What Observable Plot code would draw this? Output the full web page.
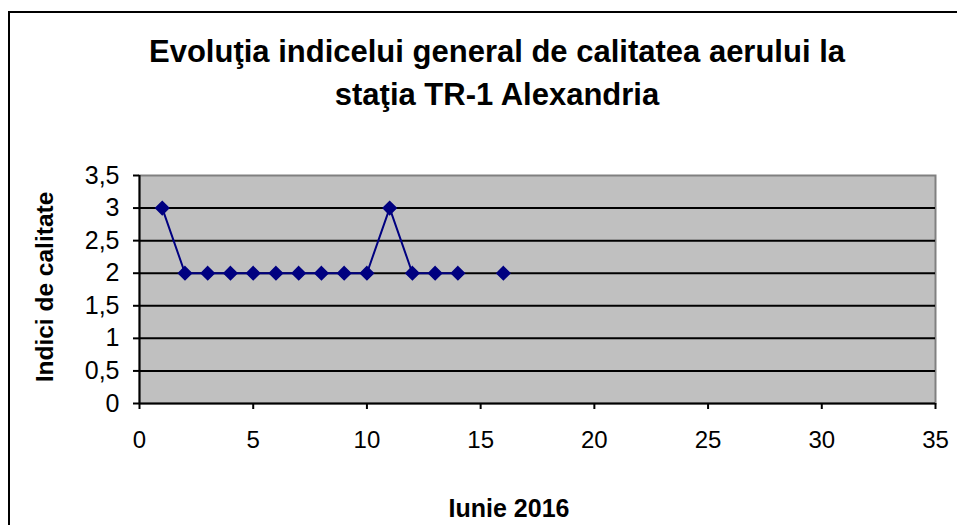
<!DOCTYPE html>
<html>
<head>
<meta charset="utf-8">
<script src="https://cdn.jsdelivr.net/npm/d3@7"></script>
<script src="https://cdn.jsdelivr.net/npm/@observablehq/plot@0.6"></script>
<style>
  html, body { margin: 0; padding: 0; background: #fff; }
  #wrap { position: relative; width: 957px; height: 525px; overflow: hidden; font-family: "Liberation Sans", Arial, sans-serif; }
  #border { position: absolute; left: 8px; top: 11px; width: 980px; height: 560px; border: 2px solid #000; box-sizing: border-box; }
  #title { position: absolute; left: 40px; width: 914px; top: 30px; text-align: center; font-weight: bold; font-size: 31px; line-height: 43px; color: #000; }
  #ytitle { position: absolute; left: 45px; top: 287px; transform: translate(-50%, -50%) rotate(-90deg); white-space: nowrap; font-weight: bold; font-size: 24.5px; color: #000; }
  #xtitle { position: absolute; left: 509px; top: 508px; transform: translate(-50%, -50%); white-space: nowrap; font-weight: bold; font-size: 25px; color: #000; }
  #chart { position: absolute; left: 0; top: 0; }
</style>
</head>
<body>
<div id="wrap">
  <div id="chart"></div>
  <div id="border"></div>
  <div id="title">Evoluţia indicelui general de calitatea aerului la<br>staţia TR-1 Alexandria</div>
  <div id="ytitle">Indici de calitate</div>
  <div id="xtitle">Iunie 2016</div>
</div>
<script>
const days = [1, 2, 3, 4, 5, 6, 7, 8, 9, 10, 11, 12, 13, 14, 15, 16];
const values = [3, 2, 2, 2, 2, 2, 2, 2, 2, 2, 3, 2, 2, 2, null, 2];
const xTicks = [0, 5, 10, 15, 20, 25, 30, 35];
const yTicks = [0, 0.5, 1, 1.5, 2, 2.5, 3, 3.5];

const data = days.map((d, i) => ({day: d, value: values[i]}));
const fmt = d => String(d).replace(".", ",");

const chart = Plot.plot({
  width: 957,
  height: 525,
  marginLeft: 139,
  marginRight: 22,
  marginTop: 175,
  marginBottom: 122,
  style: {fontFamily: "Liberation Sans, Arial, sans-serif", background: "transparent", color: "#000"},
  x: {domain: [0, 35], ticks: xTicks},
  y: {domain: [0, 3.5], ticks: yTicks},
  marks: [
    Plot.frame({fill: "#c0c0c0", stroke: "#808080", strokeWidth: 2}),
    Plot.ruleY(yTicks.filter(t => t > 0 && t < 3.5), {stroke: "#000", strokeWidth: 2}),
    Plot.ruleX([0], {stroke: "#000", strokeWidth: 2}),
    Plot.ruleY([0], {stroke: "#000", strokeWidth: 2}),
    Plot.axisX({ticks: xTicks, tickSize: 6, tickPadding: 21, fontSize: 24, stroke: "#000", strokeWidth: 2, label: null, tickFormat: fmt}),
    Plot.axisY({ticks: yTicks, tickSize: 6, tickPadding: 14, fontSize: 25, stroke: "#000", strokeWidth: 2, label: null, tickFormat: fmt}),
    Plot.line(data, {x: "day", y: "value", stroke: "#000080", strokeWidth: 2}),
    Plot.dot(data.filter(d => d.value != null), {x: "day", y: "value", symbol: "diamond2", r: 5.9, fill: "#000080", stroke: "#000080"})
  ]
});
document.getElementById("chart").appendChild(chart);
</script>
</body>
</html>
